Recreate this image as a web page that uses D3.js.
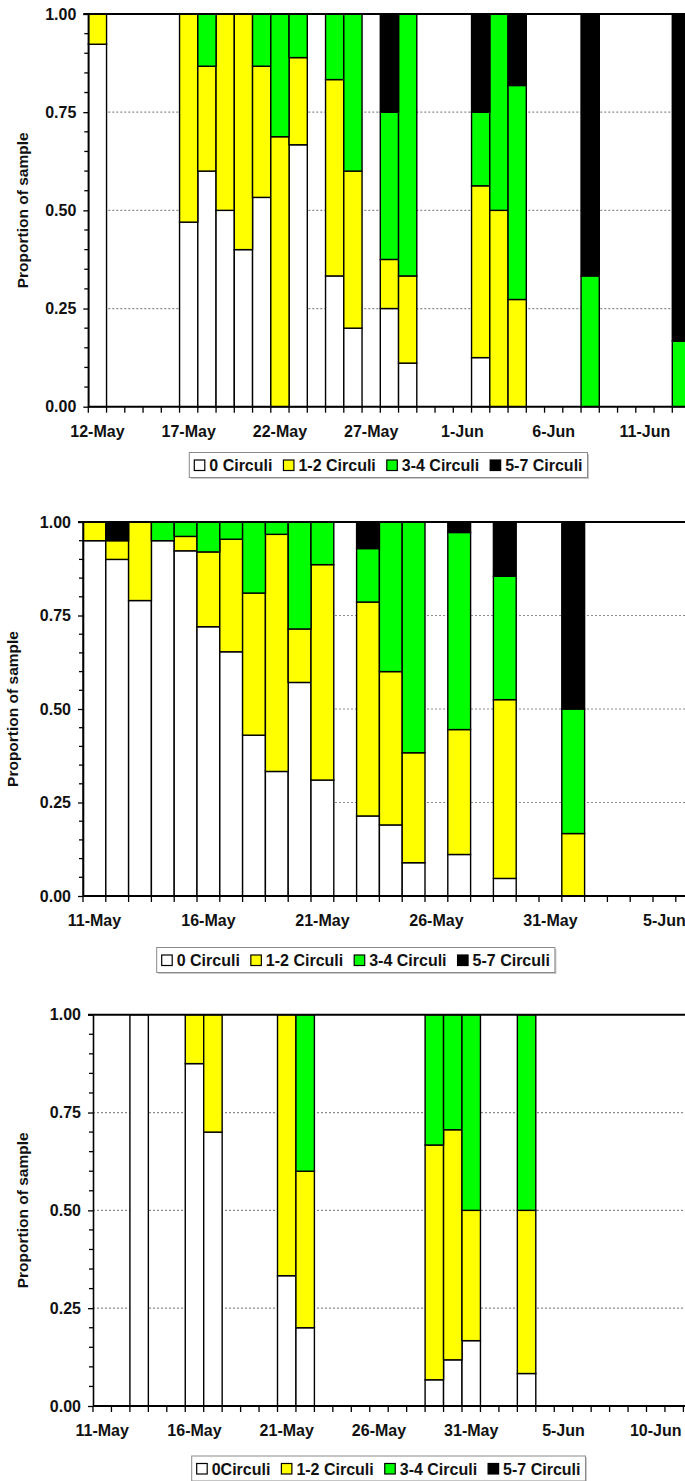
<!DOCTYPE html>
<html>
<head>
<meta charset="utf-8">
<script src="https://cdn.jsdelivr.net/npm/d3@7/dist/d3.min.js"></script>
<style>
	body { margin: 0; background: #fff; }
	svg { display: block; font-family: 'Liberation Sans', Arial, sans-serif; font-weight: bold; }
	.grid-line { stroke: #8c8c8c; stroke-width: 1.2; stroke-dasharray: 2, 2; }
</style>
</head>
<body>
<div id="chart"></div>
<script>
const keys = ['zero', 'oneTwo', 'threeFour', 'fiveSeven'];
const colors = ['#ffffff', '#ffff00', '#00ff00', '#000000'];
const yTicks = [0, 0.25, 0.5, 0.75, 1];
const legendLabels = ['0 Circuli', '1-2 Circuli', '3-4 Circuli', '5-7 Circuli'];
const legendLabels3 = ['0Circuli', '1-2 Circuli', '3-4 Circuli', '5-7 Circuli'];

// top panel
const dates1 = ['12-May', '17-May', '18-May', '19-May', '20-May', '21-May', '22-May', '23-May', '25-May', '26-May', '28-May', '29-May', '2-Jun', '3-Jun', '4-Jun', '8-Jun', '13-Jun'];
const zero1 = [0.923, 0.47, 0.60, 0.50, 0.40, 0.533, 0, 0.667, 0.333, 0.20, 0.25, 0.111, 0.125, 0, 0, 0, 0];
const oneTwo1 = [0.077, 0.53, 0.267, 0.50, 0.60, 0.334, 0.6875, 0.222, 0.50, 0.40, 0.125, 0.222, 0.4375, 0.5, 0.273, 0, 0];
const threeFour1 = [0, 0, 0.133, 0, 0, 0.133, 0.3125, 0.111, 0.167, 0.40, 0.375, 0.667, 0.1875, 0.5, 0.545, 0.333, 0.167];
const fiveSeven1 = [0, 0, 0, 0, 0, 0, 0, 0, 0, 0, 0.25, 0, 0.25, 0, 0.182, 0.667, 0.833];

// middle panel
const dates2 = ['11-May', '12-May', '13-May', '14-May', '15-May', '16-May', '17-May', '18-May', '19-May', '20-May', '21-May', '23-May', '24-May', '25-May', '27-May', '29-May', '1-Jun'];
const zero2 = [0.95, 0.90, 0.79, 0.95, 0.923, 0.72, 0.653, 0.43, 0.333, 0.571, 0.31, 0.214, 0.19, 0.089, 0.111, 0.047, 0];
const oneTwo2 = [0.05, 0.05, 0.21, 0, 0.0385, 0.20, 0.301, 0.38, 0.634, 0.143, 0.576, 0.572, 0.41, 0.294, 0.334, 0.478, 0.167];
const threeFour2 = [0, 0, 0, 0.05, 0.0385, 0.08, 0.046, 0.19, 0.033, 0.286, 0.114, 0.143, 0.40, 0.617, 0.527, 0.33, 0.333];
const fiveSeven2 = [0, 0.05, 0, 0, 0, 0, 0, 0, 0, 0, 0, 0.071, 0, 0, 0.028, 0.145, 0.5];

// bottom panel
const dates3 = ['13-May', '16-May', '17-May', '21-May', '22-May', '29-May', '30-May', '31-May', '3-Jun'];
const zero3 = [1, 0.875, 0.70, 0.333, 0.20, 0.067, 0.118, 0.167, 0.083];
const oneTwo3 = [0, 0.125, 0.30, 0.667, 0.40, 0.60, 0.588, 0.333, 0.417];
const threeFour3 = [0, 0, 0, 0, 0.40, 0.333, 0.294, 0.50, 0.50];
const fiveSeven3 = [0, 0, 0, 0, 0, 0, 0, 0, 0];

let svgWidth = 685;
let svgHeight = 1481;
let svg = d3.select('#chart').append('svg')
	.attr('width', svgWidth)
	.attr('height', svgHeight);

let parseDay = d3.timeParse('%d-%b-%Y');
let fmtDay = d3.timeFormat('%-d-%b');

function drawPanel(cfg) {
	let start = parseDay(cfg.start + '-2005');
	let days = d3.timeDay.range(start, d3.timeDay.offset(start, cfg.nDays)).map(fmtDay);

	let x = d3.scaleBand()
		.domain(days)
		.range([cfg.left, cfg.left + cfg.step * cfg.nDays])
		.padding(0);
	let y = d3.scaleLinear()
		.domain([0, 1])
		.range([cfg.bottom, cfg.top]);

	let g = svg.append('g').classed('panel', true);

	// dotted grid
	g.selectAll('line.grid-line')
		.data([0.25, 0.5, 0.75])
		.enter()
		.append('line')
		.classed('grid-line', true)
		.attr('x1', cfg.left)
		.attr('x2', svgWidth)
		.attr('y1', d => y(d))
		.attr('y2', d => y(d));

	let rows = cfg.dates.map((d, i) => ({
		date: d,
		zero: cfg.zero[i],
		oneTwo: cfg.oneTwo[i],
		threeFour: cfg.threeFour[i],
		fiveSeven: cfg.fiveSeven[i]
	}));
	let series = d3.stack().keys(keys)(rows);

	g.selectAll('g.layer')
		.data(series)
		.enter()
		.append('g')
		.attr('class', 'layer')
		.attr('fill', (d, i) => colors[i])
		.selectAll('rect')
		.data(d => d.filter(p => p[1] - p[0] > 0.001))
		.enter()
		.append('rect')
		.attr('x', d => x(d.data.date))
		.attr('width', x.bandwidth())
		.attr('y', d => y(d[1]))
		.attr('height', d => y(d[0]) - y(d[1]))
		.attr('stroke', '#000')
		.attr('stroke-width', 1.4);

	// top border and baseline
	g.append('line')
		.attr('x1', cfg.left - 5).attr('x2', svgWidth)
		.attr('y1', y(1)).attr('y2', y(1))
		.attr('stroke', '#000').attr('stroke-width', 2);
	g.append('line')
		.attr('x1', cfg.left).attr('x2', svgWidth)
		.attr('y1', y(0)).attr('y2', y(0))
		.attr('stroke', '#000').attr('stroke-width', 2);

	// y axis
	let axisY = d3.axisLeft(y)
		.tickValues(yTicks)
		.tickFormat(d3.format('.2f'))
		.tickSize(5)
		.tickSizeOuter(0)
		.tickPadding(7);
	let yAxis = g.append('g')
		.attr('transform', `translate(${cfg.left}, 0)`)
		.call(axisY)
		.attr('font-size', '16px')
		.attr('font-family', null);
	yAxis.select('.domain').attr('stroke-width', 1.6);
	yAxis.selectAll('.tick line').attr('stroke-width', 1.3);
	yAxis.selectAll('.tick text').attr('fill', '#111');

	g.selectAll('line.minor')
		.data(d3.range(1, 20).filter(k => k % 5 !== 0))
		.enter()
		.append('line')
		.classed('minor', true)
		.attr('x1', cfg.left - 4).attr('x2', cfg.left)
		.attr('y1', k => y(k * 0.05)).attr('y2', k => y(k * 0.05))
		.attr('stroke', '#000').attr('stroke-width', 1.3);

	// x axis: a tick at every day boundary, a label every 5 days
	let bounds = days.map(d => x(d)).concat([x.range()[1]]);
	g.selectAll('line.xtick')
		.data(bounds)
		.enter()
		.append('line')
		.classed('xtick', true)
		.attr('x1', d => d).attr('x2', d => d)
		.attr('y1', cfg.bottom).attr('y2', cfg.bottom + 6)
		.attr('stroke', '#000').attr('stroke-width', 1.3);

	let axisX = d3.axisBottom(x)
		.tickValues(days.filter((d, i) => i % 5 === 0))
		.tickSize(0)
		.tickPadding(18.5);
	let xAxis = g.append('g')
		.attr('transform', `translate(0, ${cfg.bottom})`)
		.call(axisX)
		.attr('font-size', '16px')
		.attr('font-family', null);
	xAxis.select('.domain').remove();
	xAxis.selectAll('.tick text').attr('fill', '#111');

	g.append('text')
		.attr('transform', `translate(${cfg.titleX}, ${(cfg.top + cfg.bottom) / 2}) rotate(-90)`)
		.attr('text-anchor', 'middle')
		.attr('font-size', '15.5px')
		.attr('fill', '#111')
		.text('Proportion of sample');

	// legend
	let lg = g.append('g')
		.attr('transform', `translate(${cfg.legendX}, ${cfg.legendY})`);
	lg.append('rect')
		.classed('shadow', true)
		.attr('x', 1.5).attr('y', 1.5)
		.attr('height', 25)
		.attr('fill', '#c8c8c8');
	let box = lg.append('rect')
		.attr('height', 25)
		.attr('fill', '#fff')
		.attr('stroke', '#8a8a8a')
		.attr('stroke-width', 1);
	let cx = 5;
	cfg.legend.forEach((label, i) => {
		lg.append('rect')
			.attr('x', cx).attr('y', 7.5)
			.attr('width', 10.5).attr('height', 10.5)
			.attr('fill', colors[i])
			.attr('stroke', '#000')
			.attr('stroke-width', 1.2);
		let t = lg.append('text')
			.attr('x', cx + 15)
			.attr('y', 18.5)
			.attr('font-size', '16px')
			.attr('fill', '#111')
			.text(label);
		cx += 15 + t.node().getComputedTextLength() + 11;
	});
	let w = cx - 11 + 5;
	box.attr('width', w);
	lg.select('rect.shadow').attr('width', w);
}

drawPanel({
	start: '12-May', nDays: 34, left: 88.3, step: 18.25, top: 14, bottom: 406.7,
	titleX: 28, legendX: 189.3, legendY: 452.5, legend: legendLabels,
	dates: dates1, zero: zero1, oneTwo: oneTwo1, threeFour: threeFour1, fiveSeven: fiveSeven1
});
drawPanel({
	start: '11-May', nDays: 27, left: 83, step: 22.8, top: 522, bottom: 896,
	titleX: 18, legendX: 156.7, legendY: 947.5, legend: legendLabels,
	dates: dates2, zero: zero2, oneTwo: oneTwo2, threeFour: threeFour2, fiveSeven: fiveSeven2
});
drawPanel({
	start: '11-May', nDays: 33, left: 93, step: 18.45, top: 1014.7, bottom: 1406,
	titleX: 28, legendX: 191.7, legendY: 1456, legend: legendLabels3,
	dates: dates3, zero: zero3, oneTwo: oneTwo3, threeFour: threeFour3, fiveSeven: fiveSeven3
});
</script>
</body>
</html>
